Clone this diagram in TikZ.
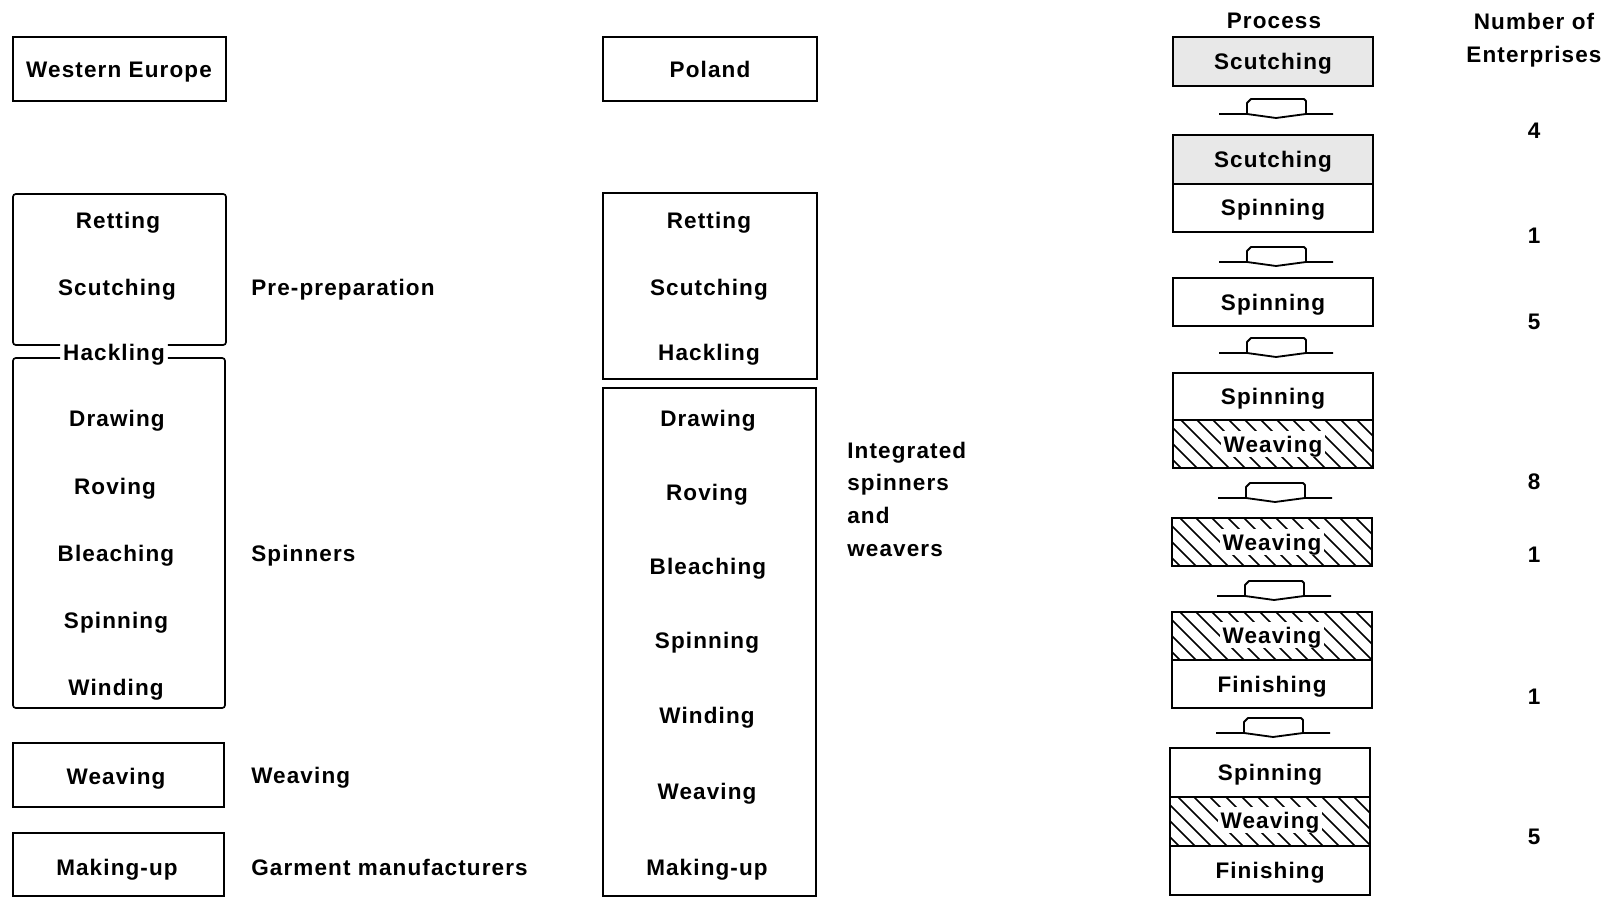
\documentclass[tikz,border=0pt]{standalone}
\usepackage{fontspec}
\setmainfont{Liberation Sans}[LetterSpace=5]

% diagonal hatching inside a rectangle (x1,y1)-(x2,y2)
\newcommand\hatchfill[4]{%
  \begin{scope}
    \clip (#1,#2) rectangle (#3,#4);
    \foreach \k in {-72,-56,...,232}
      \draw[line width=1.1pt] (#1+\k,#2) -- ++(70,70);
  \end{scope}}

% flat block arrow between process stages: centre x, base line y
\newcommand\flowmark[2]{%
  \draw[line width=1.3pt, line join=round]
    (#1-57,#2) -- (#1-29,#2) -- (#1-29,#2-11) -- (#1-25,#2-15)
    -- (#1+28,#2-15) -- (#1+30,#2-13) -- (#1+30,#2) -- (#1+57,#2);
  \draw[line width=1.3pt, line join=round] (#1-29,#2) -- (#1,#2+4) -- (#1+30,#2);}

\begin{document}
\begin{tikzpicture}[x=0.025cm, y=-0.025cm,
  lbl/.style={font=\bfseries\fontsize{16}{19}\selectfont, inner sep=0pt,
              text height=11.5pt, text depth=0pt},
  lbll/.style={lbl, anchor=west},
  onhatch/.style={lbl, fill=white, inner xsep=2pt, inner ysep=0pt,
                  text height=15pt, text depth=3.5pt},
  frame/.style={draw, line width=1.2pt},
  stipple/.style={fill=black!9}]

\useasboundingbox (0,0) rectangle (1614,898);

% ---------------- Western Europe ----------------
\draw[frame] (13,37) rectangle (226,101);
\node[lbl] (we) at (119,69) {Western Europe};

\node[lbl] (hack) at (114,352) {Hackling};
\draw[frame, rounded corners=2] ([xshift=-2pt]hack.west |- 0,345) -- (13,345) -- (13,194)
  -- (226,194) -- (226,345) -- ([xshift=2pt]hack.east |- 0,345);
\draw[frame, rounded corners=2] ([xshift=-2pt]hack.west |- 0,358) -- (13,358) -- (13,708)
  -- (225,708) -- (225,358) -- ([xshift=2pt]hack.east |- 0,358);
\node[lbl] (wret) at (118,220) {Retting};
\node[lbl] (wscu) at (117,287) {Scutching};
\node[lbl] (wdra) at (117,418) {Drawing};
\node[lbl] (wrov) at (115,486) {Roving};
\node[lbl] (wble) at (116,553) {Bleaching};
\node[lbl] (wspi) at (116,620) {Spinning};
\node[lbl] (wwin) at (116,687) {Winding};

\draw[frame] (13,743) rectangle (224,807);
\node[lbl] (wwea) at (116,776) {Weaving};
\draw[frame] (13,833) rectangle (224,896);
\node[lbl] (wmak) at (117,867) {Making-up};

% stage names
\node[lbll] (pre) at (251,287) {Pre-preparation};
\node[lbll] (spn) at (251,553) {Spinners};
\node[lbll] (wvg) at (251,775) {Weaving};
\node[lbll] (gar) at (251,867) {Garment manufacturers};

% ---------------- Poland ----------------
\draw[frame] (603,37) rectangle (817,101);
\node[lbl] (pl) at (710,69) {Poland};

\draw[frame] (603,193) rectangle (817,379);
\node[lbl] (pret) at (709,220) {Retting};
\node[lbl] (pscu) at (709,287) {Scutching};
\node[lbl] (phac) at (709,352) {Hackling};

\draw[frame] (603,388) rectangle (816,896);
\node[lbl] (pdra) at (708,418) {Drawing};
\node[lbl] (prov) at (707,492) {Roving};
\node[lbl] (pble) at (708,566) {Bleaching};
\node[lbl] (pspi) at (707,640) {Spinning};
\node[lbl] (pwin) at (707,715) {Winding};
\node[lbl] (pwea) at (707,791) {Weaving};
\node[lbl] (pmak) at (707,867) {Making-up};

\node[lbll] (int1) at (847,450) {Integrated};
\node[lbll] (int2) at (847,482) {spinners};
\node[lbll] (int3) at (847,515) {and};
\node[lbll] (int4) at (847,548) {weavers};

% ---------------- Process column ----------------
\node[lbl] (proc) at (1274,20) {Process};
\node[lbl] (num1) at (1534,21) {Number of};
\node[lbl] (num2) at (1534,54) {Enterprises};

% 1: scutching
\fill[stipple] (1173,37) rectangle (1373,86);
\draw[frame] (1173,37) rectangle (1373,86);
\node[lbl] (r1a) at (1273,61) {Scutching};
\flowmark{1276}{114}

% 2: scutching + spinning
\fill[stipple] (1173,135) rectangle (1373,184);
\draw[frame] (1173,135) rectangle (1373,232);
\draw[frame] (1173,184) -- (1373,184);
\node[lbl] (r2a) at (1273,159) {Scutching};
\node[lbl] (r2b) at (1273,207) {Spinning};
\flowmark{1276}{262}

% 3: spinning
\draw[frame] (1173,278) rectangle (1373,326);
\node[lbl] (r3a) at (1273,302) {Spinning};
\flowmark{1276}{353}

% 4: spinning + weaving
\hatchfill{1173}{420}{1373}{468}
\draw[frame] (1173,373) rectangle (1373,468);
\draw[frame] (1173,420) -- (1373,420);
\node[lbl] (r4a) at (1273,396) {Spinning};
\node[onhatch] (r4b) at (1273,444) {Weaving};
\flowmark{1275}{498}

% 5: weaving
\hatchfill{1172}{518}{1372}{566}
\draw[frame] (1172,518) rectangle (1372,566);
\node[onhatch] (r5a) at (1272,542) {Weaving};
\flowmark{1274}{596}

% 6: weaving + finishing
\hatchfill{1172}{612}{1372}{660}
\draw[frame] (1172,612) rectangle (1372,708);
\draw[frame] (1172,660) -- (1372,660);
\node[onhatch] (r6a) at (1272,635) {Weaving};
\node[lbl] (r6b) at (1272,684) {Finishing};
\flowmark{1273}{733}

% 7: spinning + weaving + finishing
\hatchfill{1170}{797}{1370}{846}
\draw[frame] (1170,748) rectangle (1370,895);
\draw[frame] (1170,797) -- (1370,797);
\draw[frame] (1170,846) -- (1370,846);
\node[lbl] (r7a) at (1270,772) {Spinning};
\node[onhatch] (r7b) at (1270,820) {Weaving};
\node[lbl] (r7c) at (1270,870) {Finishing};

% enterprise counts
\node[lbl] (n1) at (1534,130) {4};
\node[lbl] (n2) at (1534,235) {1};
\node[lbl] (n3) at (1534,321) {5};
\node[lbl] (n4) at (1534,481) {8};
\node[lbl] (n5) at (1534,554) {1};
\node[lbl] (n6) at (1534,696) {1};
\node[lbl] (n7) at (1534,836) {5};
\end{tikzpicture}
\end{document}
